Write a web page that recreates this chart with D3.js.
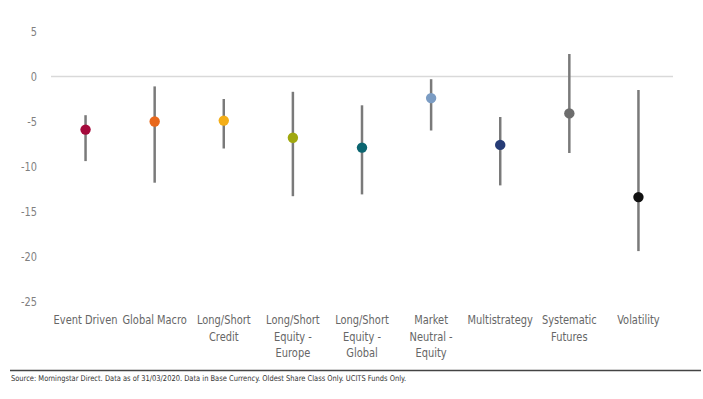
<!DOCTYPE html>
<html><head><meta charset="utf-8">
<script src="https://cdn.jsdelivr.net/npm/d3@7"></script>
<style>
html,body{margin:0;padding:0;background:#fff;}
svg{display:block;font-family:"DejaVu Sans",sans-serif;font-stretch:condensed;}
</style></head>
<body>
<svg id="chart" width="703" height="399"></svg>
<script>
const categories = ["Event Driven","Global Macro","Long/Short Credit","Long/Short Equity - Europe","Long/Short Equity - Global","Market Neutral - Equity","Multistrategy","Systematic Futures","Volatility"];
const labelLines = [["Event Driven"],["Global Macro"],["Long/Short","Credit"],["Long/Short","Equity -","Europe"],["Long/Short","Equity -","Global"],["Market","Neutral -","Equity"],["Multistrategy"],["Systematic","Futures"],["Volatility"]];
const highValues = [-4.3, -1.1, -2.5, -1.7, -3.2, -0.3, -4.5, 2.5, -1.5];
const lowValues = [-9.4, -11.8, -8.0, -13.3, -13.1, -6.0, -12.1, -8.5, -19.4];
const midValues = [-5.9, -5.0, -4.9, -6.8, -7.9, -2.4, -7.6, -4.1, -13.4];
const colors = ["#a50a3c","#e8681c","#f4ae17","#a0a80f","#0b6570","#7b9cc3","#263c76","#6d6d6d","#111111"];
const yTicks = [5, 0, -5, -10, -15, -20, -25];

const svg = d3.select("#chart");
const x = d3.scaleBand().domain(categories).range([51, 673]).padding(0);
const y = d3.scaleLinear().domain([-25, 5]).range([301.5, 31.5]);

function measure(str, size){
  const p = svg.append("text").style("font-size",size).text(str);
  const w = p.node().getComputedTextLength();
  p.remove();
  return w;
}
const sx = Math.min(1, 64 / measure("Event Driven","13px"));
const sy = Math.min(1, 16 / measure("-25","13px"));

// y tick labels
const yAxis = d3.axisLeft(y).tickValues(yTicks).tickSize(0).tickPadding(0).tickFormat(d => String(d));
const ga = svg.append("g").attr("transform","translate(37,0)").call(yAxis);
ga.select(".domain").remove();
ga.selectAll("text").attr("fill","#808080").style("font-size","13px")
  .style("font-family","'DejaVu Sans',sans-serif").style("font-stretch","condensed")
  .attr("transform",`scale(${sy},1)`);

// zero line
svg.append("line").attr("x1",51).attr("x2",673).attr("y1",y(0)).attr("y2",y(0))
  .attr("stroke","#d9d9d9").attr("stroke-width",1.5);

const cx = d => x(d) + x.bandwidth()/2;

// whiskers
svg.append("g").selectAll("line").data(categories).join("line")
  .attr("x1",d=>cx(d)).attr("x2",d=>cx(d))
  .attr("y1",(d,i)=>y(highValues[i])).attr("y2",(d,i)=>y(lowValues[i]))
  .attr("stroke","#7a7a7a").attr("stroke-width",2.5);

// dots
svg.append("g").selectAll("circle").data(categories).join("circle")
  .attr("cx",d=>cx(d)).attr("cy",(d,i)=>y(midValues[i])).attr("r",5.2)
  .attr("fill",(d,i)=>colors[i]);

// category labels
const gl = svg.append("g");
categories.forEach((c,i)=>{
  const g = gl.append("g").attr("transform",`translate(${cx(c)},0) scale(${sx},1)`);
  const t = g.append("text").attr("x",0).attr("y",324).attr("text-anchor","middle")
    .attr("fill","#666").style("font-size","13px");
  labelLines[i].forEach((ln,j)=>{
    t.append("tspan").attr("x",0).attr("dy", j===0?0:16.7).text(ln);
  });
});

// footer rule
svg.append("line").attr("x1",10).attr("x2",701).attr("y1",370.5).attr("y2",370.5)
  .attr("stroke","#444").attr("stroke-width",1.5);
const src = svg.append("text").attr("x",11).attr("y",381).attr("fill","#333").style("font-size","8px")
  .text("Source: Morningstar Direct. Data as of 31/03/2020. Data in Base Currency. Oldest Share Class Only. UCITS Funds Only.");
const sw = src.node().getComputedTextLength();
if (sw > 396) src.attr("transform",`translate(11,0) scale(${396/sw},1) translate(-11,0)`);
</script>
</body></html>
